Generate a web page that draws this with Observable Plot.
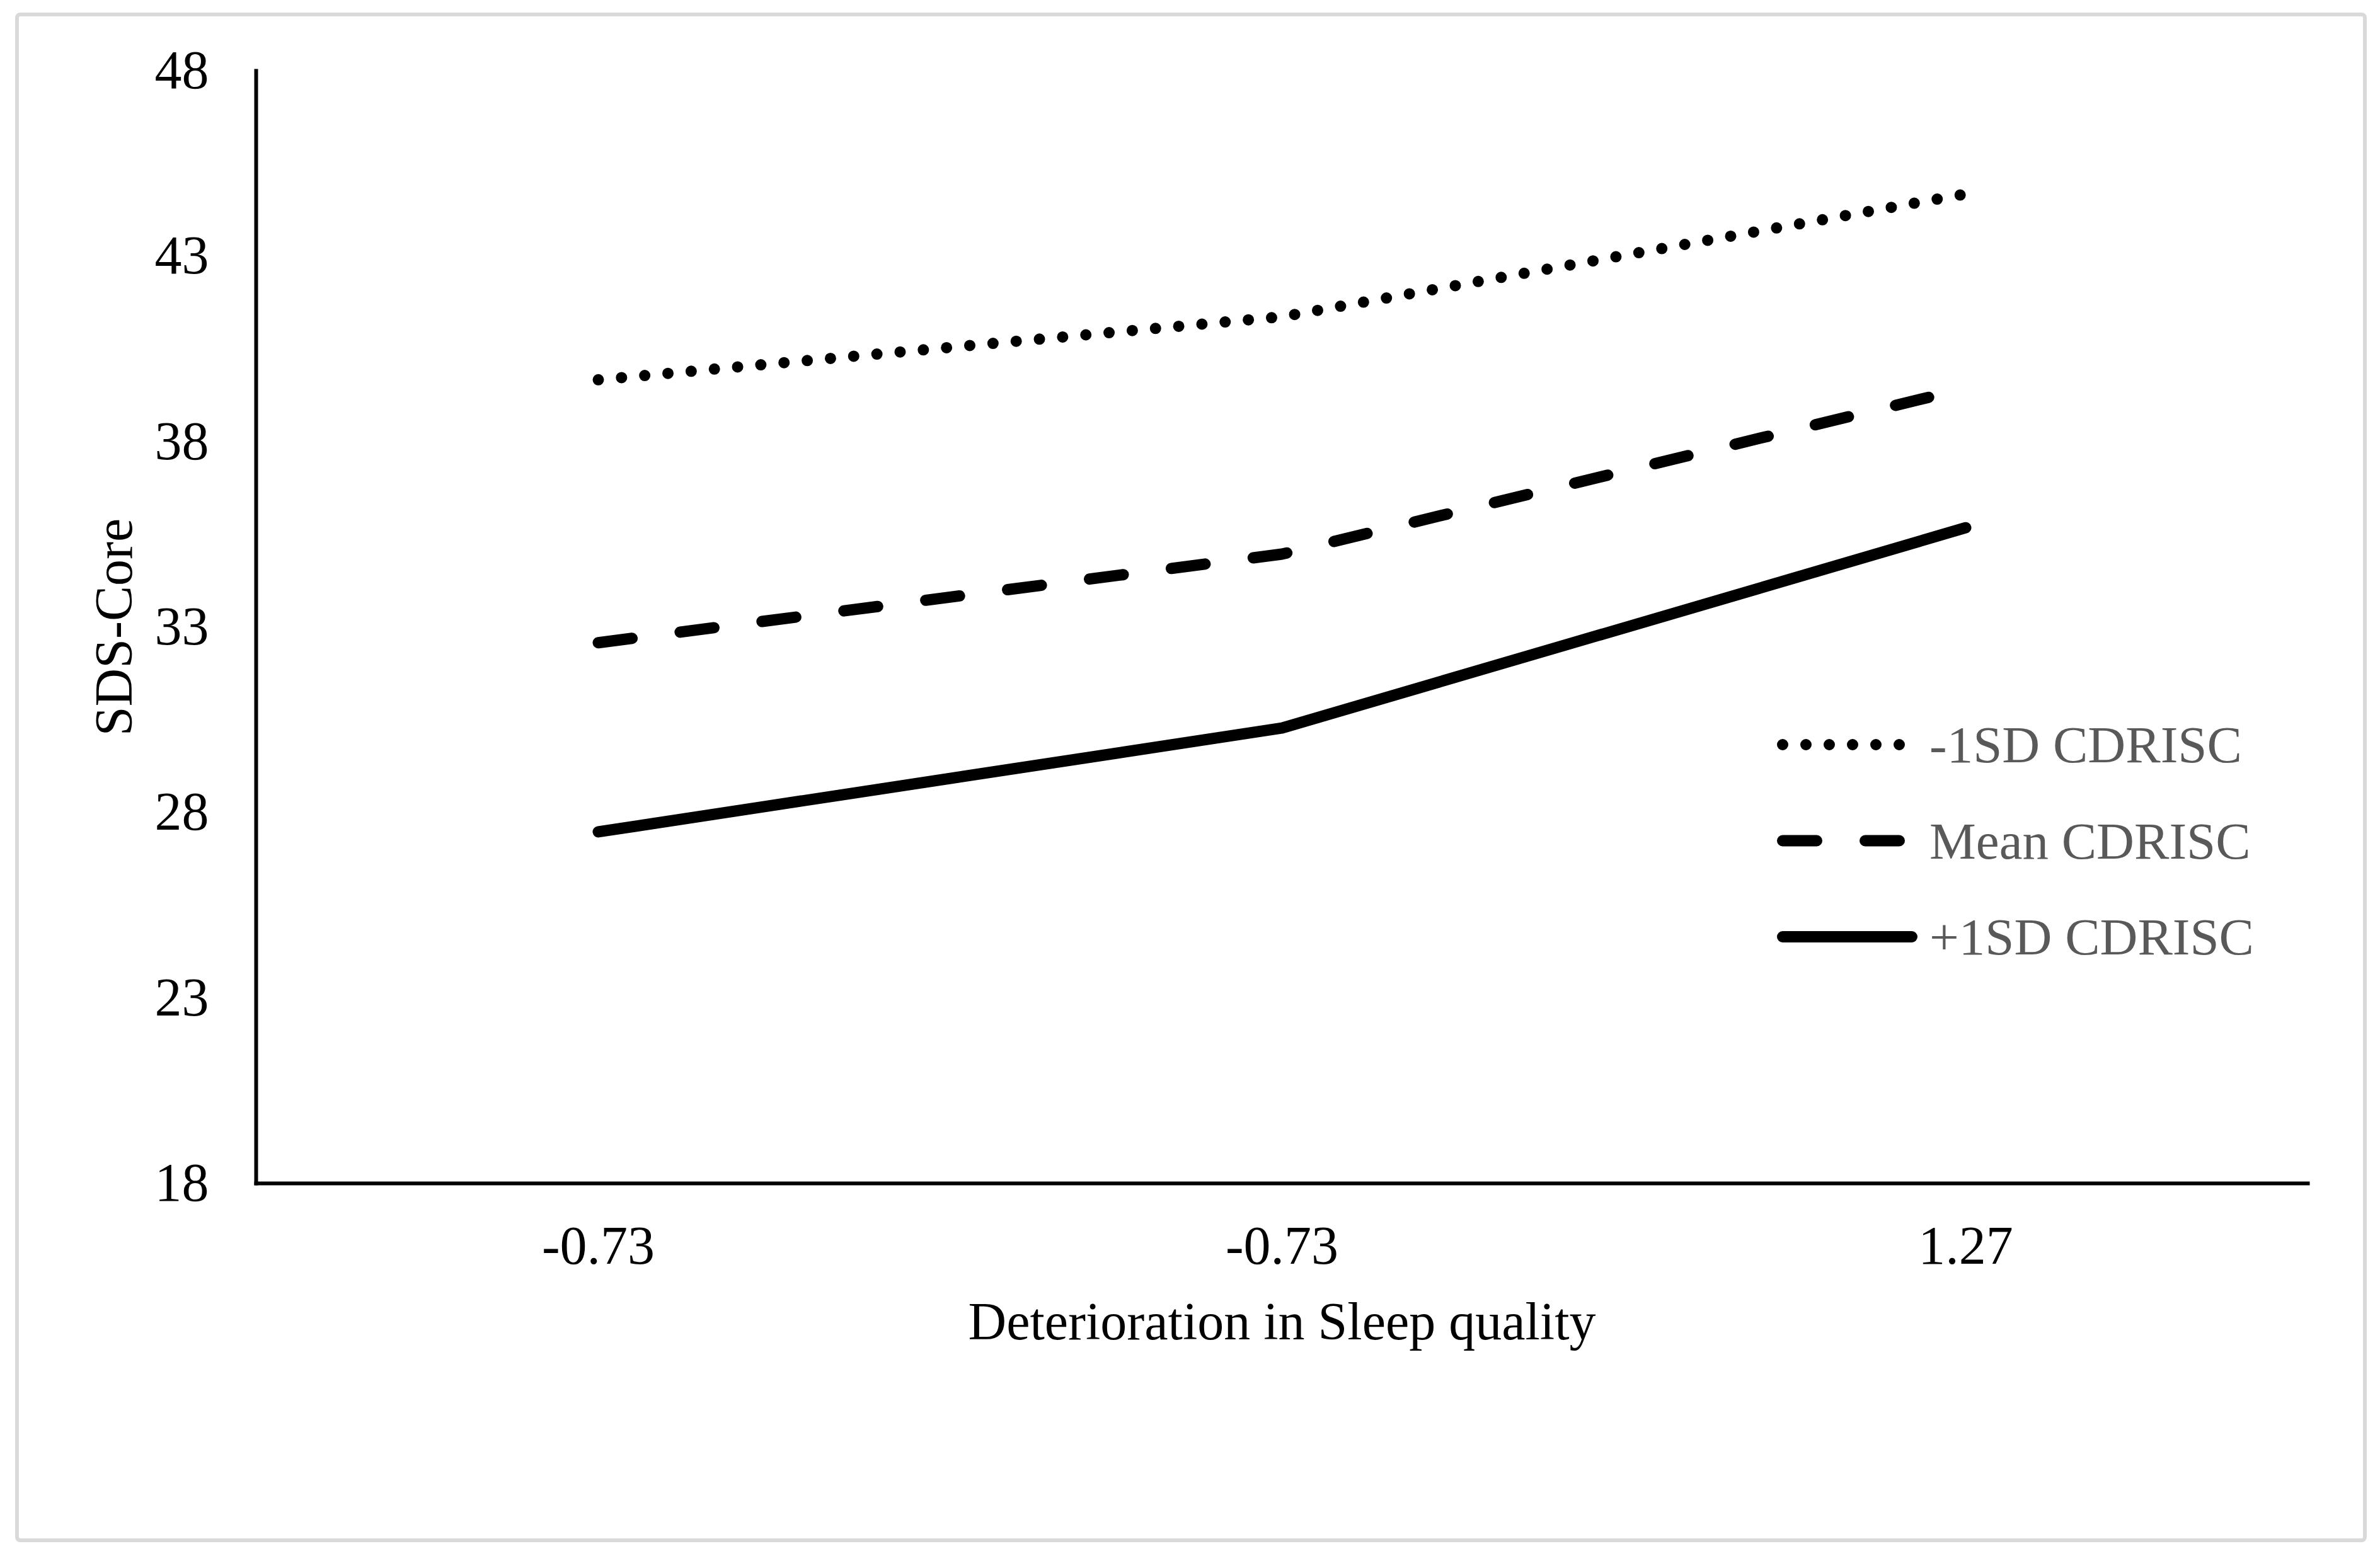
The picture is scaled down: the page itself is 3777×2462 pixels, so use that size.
<!DOCTYPE html>
<html>
<head>
<meta charset="utf-8">
<script src="https://cdn.jsdelivr.net/npm/d3@7"></script>
<script src="https://cdn.jsdelivr.net/npm/@observablehq/plot@0.6"></script>
<style>
  html, body { margin: 0; padding: 0; background: #fff; overflow: hidden; }
  #wrap { position: relative; width: 3777px; height: 2462px; }
  #border { position: absolute; left: 24px; top: 20px; width: 3732px; height: 2428px;
            box-sizing: border-box; border: 6px solid #d9d9d9; border-radius: 8px; }
  #chart { position: absolute; left: 0; top: 0; }
  #legend { position: absolute; left: 2800px; top: 1100px; }
</style>
</head>
<body>
<div id="wrap">
  <div id="border"></div>
  <div id="chart"></div>
  <div id="legend"></div>
</div>
<script>
// ---- data ----
const xLabels = ["-0.73", "-0.73", "1.27"];
const seriesNames = ["-1SD CDRISC", "Mean CDRISC", "+1SD CDRISC"];
const lowValues = [39.67, 41.37, 44.68];   // -1SD CDRISC
const meanValues = [32.58, 34.97, 39.44];  // Mean CDRISC
const highValues = [27.48, 30.28, 35.68];  // +1SD CDRISC
const yTicks = [18, 23, 28, 33, 38, 43, 48];
const yTitle = "SDS-Core";
const xTitle = "Deterioration in Sleep quality";

const font = "'Liberation Serif', 'Times New Roman', serif";
const dashes = ["0,37", "54,77", null];
const seriesValues = [lowValues, meanValues, highValues];

const lineMarks = seriesValues.map((vals, k) =>
  Plot.line(vals, {
    x: (d, i) => i,
    y: d => d,
    stroke: "black",
    strokeWidth: 18,
    strokeLinecap: "round",
    strokeLinejoin: "round",
    ...(dashes[k] ? {strokeDasharray: dashes[k]} : {})
  })
);

const chart = Plot.plot({
  width: 3777,
  height: 2462,
  marginLeft: 406,
  marginRight: 115,
  marginTop: 112,
  marginBottom: 584,
  style: {fontFamily: font, fontSize: "86px", background: "transparent", color: "black"},
  x: {type: "point", domain: [0, 1, 2], padding: 0.5},
  y: {domain: [18, 48]},
  marks: [
    Plot.axisY({ticks: yTicks, tickSize: 0, tickPadding: 75, fontSize: 86, label: null, fill: "black"}),
    Plot.axisX({tickSize: 0, tickPadding: 66, tickFormat: i => xLabels[i], fontSize: 86, label: null, fill: "black"}),
    ...lineMarks,
    Plot.frame({anchor: "left", stroke: "black", strokeWidth: 6}),
    Plot.frame({anchor: "bottom", stroke: "black", strokeWidth: 6}),
    Plot.text([yTitle], {text: d => d, frameAnchor: "left", rotate: -90, dx: -224, lineAnchor: "middle", textAnchor: "middle", fontSize: 84, fill: "black"}),
    Plot.text([xTitle], {text: d => d, frameAnchor: "bottom", dy: 247, lineAnchor: "bottom", textAnchor: "middle", fontSize: 84, fill: "black"})
  ]
});
document.getElementById("chart").appendChild(chart);

// ---- legend ----
const lg = d3.select("#legend").append("svg")
  .attr("width", 900).attr("height", 500)
  .style("font-family", font);
const rowY = i => 82 + 152.5 * i;
const sampleEnd = [215, 214, 234];
seriesNames.forEach((name, i) => {
  const ln = lg.append("line")
    .attr("x1", 29).attr("x2", sampleEnd[i])
    .attr("y1", rowY(i)).attr("y2", rowY(i))
    .attr("stroke", "black").attr("stroke-width", 18)
    .attr("stroke-linecap", "round");
  if (dashes[i]) ln.attr("stroke-dasharray", dashes[i]);
  lg.append("text")
    .attr("x", 262).attr("y", rowY(i) + 28)
    .attr("font-size", 83).attr("fill", "#595959")
    .text(name);
});
</script>
</body>
</html>
